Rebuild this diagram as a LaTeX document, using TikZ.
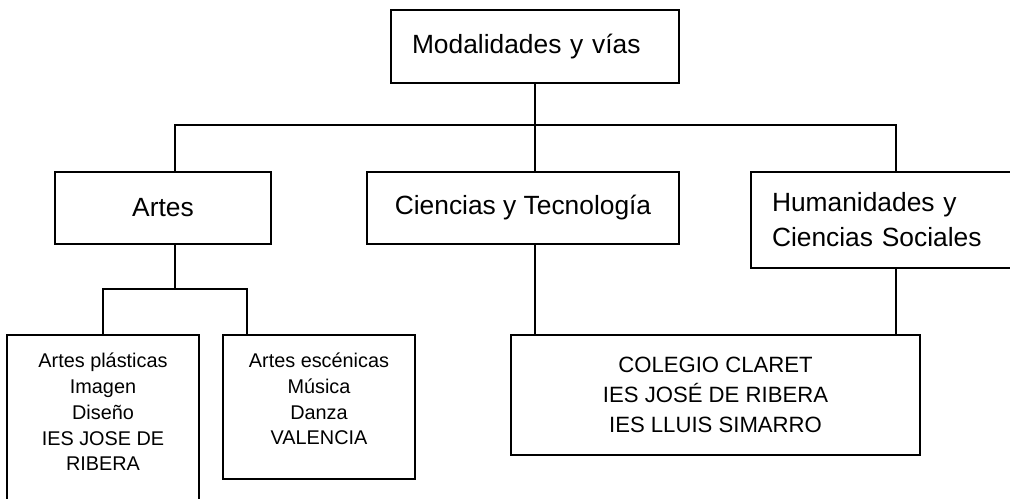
\documentclass[tikz,border=0pt]{standalone}
\usepackage{fontspec}
\setmainfont{Liberation Sans}
\usetikzlibrary{positioning}

\begin{document}
\begin{tikzpicture}
      [
        x=0.02cm, y=-0.02cm,
        line width=0.9pt,
        LevelBox/.style={draw, outer sep=0pt, inner sep=0pt, font=\fontsize{15}{20}\selectfont},
        SchoolBox/.style={draw, outer sep=0pt, inner sep=0pt},
        SchoolText/.style={align=center, inner sep=0pt, font=\fontsize{11.3}{14.7}\selectfont},
      ]
      \useasboundingbox (0,0) rectangle (1010,498);

      \node [LevelBox, minimum width=5.76cm, minimum height=1.46cm, inner xsep=0.42cm, text width=4.92cm, align=left] (modal) at (535,46.5) {Modalidades y vías};

      \node [LevelBox, minimum width=4.32cm, minimum height=1.44cm] (artes) at (163,208) {Artes};
      \node [LevelBox, minimum width=6.24cm, minimum height=1.44cm] (cien) at (523,208) {Ciencias y Tecnología};
      \node [LevelBox, minimum width=5.28cm, minimum height=1.92cm, inner xsep=0.42cm, text width=4.44cm, align=left] (hum) at (883,220) {Humanidades y\\Ciencias Sociales};

      % centros de la segunda fila
      \node [SchoolBox, minimum width=3.84cm, minimum height=3.4cm] (plas) at (103,420) {};
      \node [SchoolText] (plastxt) at (103,412) {Artes plásticas\\Imagen\\Diseño\\IES JOSE DE\\RIBERA};
      \node [SchoolBox, minimum width=3.84cm, minimum height=2.88cm] (esc) at (319,407) {};
      \node [SchoolText] (esctxt) at (319,399) {Artes escénicas\\Música\\Danza\\VALENCIA};
      \node [SchoolBox, minimum width=8.18cm, minimum height=2.4cm, align=center, font=\fontsize{12.6}{17}\selectfont] (cole) at (715.5,395) {COLEGIO CLARET\\IES JOSÉ DE RIBERA\\IES LLUIS SIMARRO};

      \coordinate (barL) at (175,125);
      \coordinate (barR) at (896,125);
      \coordinate (subL) at (103,289);
      \coordinate (subR) at (247,289);

      \draw (modal.south) -- (modal.south |- cien.north);
      \draw (artes.north -| barL) -- (barL) -- (barR) -- (hum.north -| barR);
      \draw (modal.south |- cien.south) -- (modal.south |- cole.north);
      \draw (hum.south -| barR) -- (barR |- cole.north);
      \draw (artes.south -| barL) -- (barL |- subL);
      \draw (plas.north -| subL) -- (subL) -- (subR) -- (esc.north -| subR);
    \end{tikzpicture}
\end{document}
